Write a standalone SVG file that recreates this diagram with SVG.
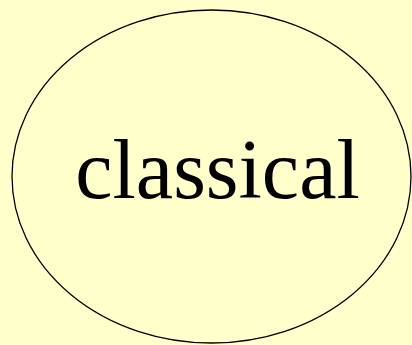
<svg xmlns="http://www.w3.org/2000/svg" width="412" height="345" viewBox="0 0 412 345">
<style>
.node{fill:#FFFFCC;stroke:#000;stroke-width:1.3}
.lbl{font-family:"Liberation Serif","Times New Roman",serif;font-size:84px;fill:#000;text-anchor:middle}
</style>
<rect width="412" height="345" fill="#FFFFCC"/>
<g id="connectors"></g>
<g id="classical">
<ellipse class="node" cx="211.5" cy="176.5" rx="199.5" ry="166.5"/>
<text class="lbl" x="217.5" y="198">classical</text>
</g>
</svg>
